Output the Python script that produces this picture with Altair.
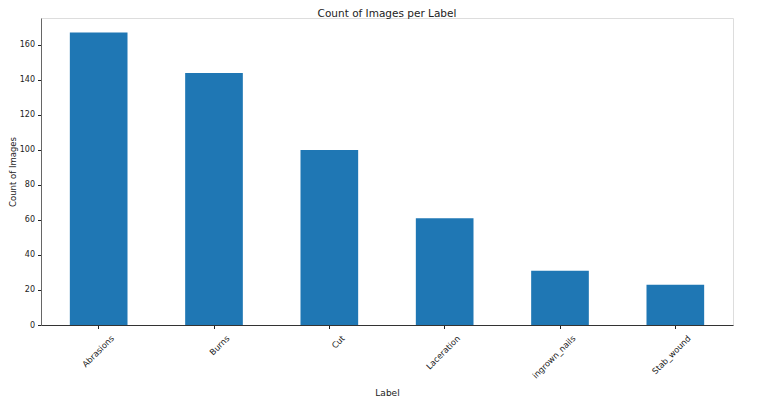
import altair as alt
import pandas as pd

labels = ["Abrasions", "Burns", "Cut", "Laceration", "ingrown_nails", "Stab_wound"]
counts = [167, 144, 100, 61, 31, 23]

df = pd.DataFrame({"Label": labels, "Count": counts})

font = "DejaVu Sans"

chart = (
    alt.Chart(df)
    .mark_bar(color="#1f77b4")
    .encode(
        x=alt.X(
            "Label:N",
            sort=labels,
            scale=alt.Scale(paddingInner=0.5, paddingOuter=0.25),
            axis=alt.Axis(
                title="Label",
                labelAngle=315,
                labelAlign="right",
                labelBaseline="top",
                labelFontSize=8.3,
                labelFont=font,
                labelColor="#222",
                labelPadding=5,
                labelOffset=11,
                tickSize=3.5,
                tickColor="#222",
                domainColor="#333",
                titleFont=font,
                titleFontSize=9,
                titleFontWeight="normal",
                titleColor="#222",
                titlePadding=9,
            ),
        ),
        y=alt.Y(
            "Count:Q",
            scale=alt.Scale(domain=[0, 175.35], nice=False, zero=True),
            axis=alt.Axis(
                title="Count of Images",
                values=[0, 20, 40, 60, 80, 100, 120, 140, 160],
                grid=False,
                labelFontSize=8,
                labelFont=font,
                labelColor="#222",
                labelPadding=3,
                tickSize=3.5,
                tickColor="#222",
                domainColor="#666",
                titleFont=font,
                titleFontSize=8.5,
                titleFontWeight="normal",
                titleColor="#222",
                titlePadding=2,
            ),
        ),
    )
    .properties(
        width=692,
        height=307,
        title=alt.Title(
            "Count of Images per Label",
            font=font,
            fontSize=10.5,
            fontWeight="normal",
            color="#222",
            anchor="middle",
            offset=-1,
        ),
        autosize=alt.AutoSizeParams(type="none"),
        padding={"left": 33, "top": 10, "right": 19, "bottom": 76},
    )
    .configure_view(stroke="#666", strokeWidth=1)
    .configure(background="white")
)

chart.save("out.html", embed_options={"renderer": "svg", "actions": False})
